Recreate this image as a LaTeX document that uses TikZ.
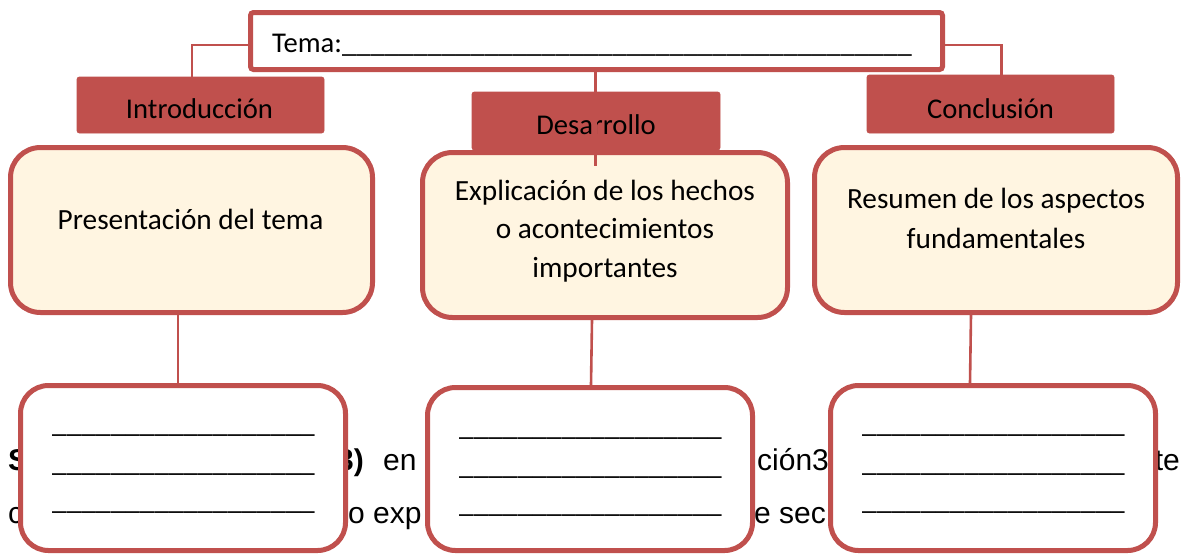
\documentclass[tikz,border=0pt]{standalone}
\usepackage{fontspec}
\setmainfont{Carlito}
\newfontfamily\arialf{Liberation Sans}
\definecolor{accred}{HTML}{C0504D}
\definecolor{cream}{HTML}{FFF5E1}
\newcommand\myblank{\_\_\_\_\_\_\_\_\_\_\_\_\_\_\_\_\_\_}
\begin{document}
\begin{tikzpicture}[x=1pt,y=-1pt,
 bgtext/.style={font=\arialf\fontsize{30}{36}\selectfont, inner sep=0pt, text=black},
 header/.style={fill=accred, draw=accred, line width=0.8pt, rounded corners=2.5pt, inner sep=0pt},
 mainbox/.style={draw=accred, line width=5pt, fill=cream, rounded corners=30pt, inner sep=0pt, minimum height=165pt},
 blankbox/.style={draw=accred, line width=5pt, fill=white, rounded corners=28pt, inner sep=0pt, minimum width=325pt},
 conn/.style={draw=accred, line width=2.6pt},
 hdr/.style={font=\fontsize{28.6}{38.5}\selectfont, inner sep=0pt, text=black},
 lbl/.style={font=\fontsize{29.3}{38.5}\selectfont, inner sep=0pt, text=black},
 lbltwo/.style={font=\fontsize{29.3}{40}\selectfont, inner sep=0pt, text=black}
]
\useasboundingbox (0,0) rectangle (1184,558);
\fill[white] (0,0) rectangle (1184,558);
% background document text (partly hidden)
\node[bgtext, anchor=base west] (s1) at (8,470) {\textbf{S}};
\node[bgtext, anchor=base east] (s2) at (364,470) {\textbf{3)}};
\node[bgtext, anchor=base west] (s3) at (383,470) {en};
\node[bgtext, anchor=base west] (s4) at (757,470) {ción3};
\node[bgtext, anchor=base east] (s5) at (1180,470) {te};
\node[bgtext, anchor=base west] (s6) at (8,523) {c};
\node[bgtext, anchor=base west] (s7) at (348,523) {o exp};
\node[bgtext, anchor=base west] (s8) at (754,523) {e sec};
% header boxes
\node[header, minimum width=247pt, minimum height=56pt] (intro) at (200.5,105) {};
\node[header, minimum width=248pt, minimum height=58pt] (desa) at (596,121) {};
\node[header, minimum width=247pt, minimum height=58pt] (concl) at (990.5,104) {};
% tema box
\node[draw=accred, line width=5pt, fill=white, rounded corners=3pt, minimum width=692pt, minimum height=57pt, inner sep=0pt] (tema) at (596.5,41) {};
\draw[conn] ([yshift=-4pt]tema.west) -| ([xshift=-8.5pt]intro.north);
\draw[conn] ([yshift=-4pt]tema.east) -| ([xshift=11pt]concl.north);
\node[hdr, anchor=base west] (tematxt) at (272,52.5) {Tema:\_\_\_\_\_\_\_\_\_\_\_\_\_\_\_\_\_\_\_\_\_\_\_\_\_\_\_\_\_\_\_\_\_\_\_\_\_\_\_\_};
\node[hdr, anchor=base] (introt) at (199.5,118) {Introducción};
\node[hdr, anchor=base] (desat) at (596,134) {Desarrollo};
\node[hdr, anchor=base] (conclt) at (990.5,118) {Conclusión};
% main boxes
\node[mainbox, minimum width=362pt] (pres) at (191.5,230) {};
\node[mainbox, minimum width=365pt] (expl) at (605,235) {};
\node[mainbox, minimum width=363pt] (resu) at (996,230) {};
\node[lbl, anchor=base] (prest) at (190.5,229) {Presentación del tema};
\node[lbl, align=center, anchor=north] (explt) at (605,173) {\strut Explicación de los hechos\\\strut o acontecimientos\\\strut importantes};
\node[lbltwo, align=center, anchor=north] (resut) at (996,180) {\strut Resumen de los aspectos\\\strut fundamentales};
% centre connector
\coordinate (cend) at (595.5,166);
\draw[conn] ([xshift=-1pt]tema.south) -- (cend);
% blank boxes
\node[blankbox, minimum height=165pt] (bl) at (183,468) {};
\node[blankbox, minimum height=163pt] (bm) at (590,469) {};
\node[blankbox, minimum height=165pt] (br) at (993,468) {};
\draw[conn] ([xshift=-13.5pt]pres.south) -- ([xshift=-5pt]bl.north);
\draw[conn] ([xshift=-13pt]expl.south) -- ([xshift=1pt]bm.north);
\draw[conn] ([xshift=-25pt]resu.south) -- ([xshift=-23pt]br.north);
\node[lbl, align=center, anchor=north] (blt) at (183.5,405.5) {\strut\myblank\\\strut\myblank\\\strut\myblank};
\node[lbl, align=center, anchor=north] (bmt) at (590.5,408.5) {\strut\myblank\\\strut\myblank\\\strut\myblank};
\node[lbl, align=center, anchor=north] (brt) at (993.5,405.5) {\strut\myblank\\\strut\myblank\\\strut\myblank};
\end{tikzpicture}
\end{document}
